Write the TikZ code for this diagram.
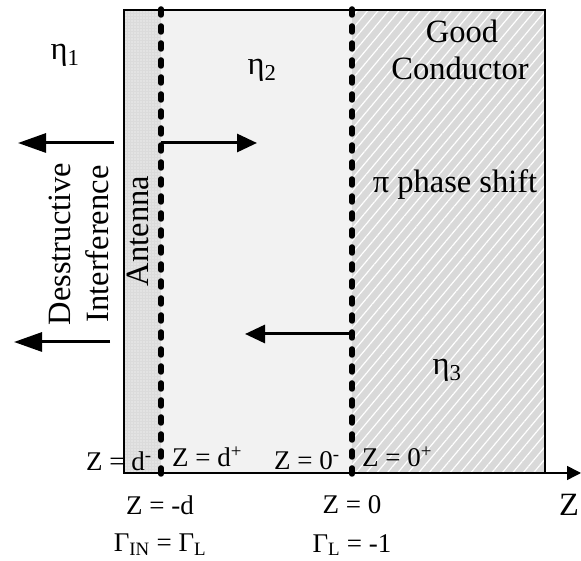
\documentclass[tikz,border=0pt]{standalone}
\usepackage{fontspec}
\setmainfont{Liberation Serif}
\usetikzlibrary{arrows.meta,patterns.meta}
\begin{document}
\begin{tikzpicture}[x=1pt, y=1pt,
  bigwave/.style={-{Triangle[length=28pt,width=19pt]}, line width=3pt},
  wave/.style={-{Triangle[length=20pt,width=18pt]}, line width=3pt},
  iface/.style={line width=5.5pt, line cap=round, dash pattern=on 6pt off 11pt},
  label/.style={font=\fontsize{32.5}{38}\selectfont, inner sep=0pt},
  zlabel/.style={font=\fontsize{27}{30}\selectfont, inner sep=0pt}]
\useasboundingbox (0,0) rectangle (581,561);
% layers
\fill[black!5] (161,88) rectangle (352,551);
\fill[black!14] (124,88) rectangle (161,551);
\fill[pattern={Dots[distance=3pt,radius=0.7pt]}, pattern color=white] (124,88) rectangle (161,551);
\fill[black!15] (352,88) rectangle (545,551);
\fill[pattern={Lines[angle=50,distance=8pt,line width=1.2pt]}, pattern color=white] (352,88) rectangle (545,551);
\draw[line width=1.5pt] (124,88) rectangle (545,551);
% z axis
\coordinate (zorig) at (124,88);
\coordinate (zend) at (581,88);
\draw[-{Triangle[length=14pt,width=14pt]}, line width=1.5pt] (zorig) -- (zend);
% interfaces
\coordinate (dtop) at (161,552);
\coordinate (dbot) at (161,77);
\coordinate (otop) at (352,552);
\coordinate (obot) at (352,77);
\draw[iface] (dtop) -- (dbot);
\draw[iface] (otop) -- (obot);
% waves
\coordinate (w1s) at (114,418);
\coordinate (w1e) at (18,418);
\coordinate (w2s) at (161,418);
\coordinate (w2e) at (257,418);
\coordinate (w3s) at (350,227);
\coordinate (w3e) at (245,227);
\coordinate (w4s) at (110,219);
\coordinate (w4e) at (14,219);
\draw[bigwave] (w1s) -- (w1e);
\draw[wave] (w2s) -- (w2e);
\draw[wave] (w3s) -- (w3e);
\draw[bigwave] (w4s) -- (w4e);
% labels
\node[label] (eta1) at (65,506) {η\textsubscript{1}};
\node[label] (eta2) at (262,491) {η\textsubscript{2}};
\node[label] (eta3) at (447,191) {η\textsubscript{3}};
\node[label] (good) at (462,530) {Good};
\node[label] (cond) at (460,493) {Conductor};
\node[label] (shift) at (455,376) {π phase shift};
\node[label, rotate=90] (ant) at (138,330) {Antenna};
\node[label, rotate=90, align=center] (interf) at (79,317) {Desstructive\\Interference};
\node[zlabel] (zdm) at (119,100) {Z = d\textsuperscript{-}};
\node[zlabel] (zdp) at (207,104) {Z = d\textsuperscript{+}};
\node[zlabel] (zom) at (307,100) {Z = 0\textsuperscript{-}};
\node[zlabel] (zop) at (397,104) {Z = 0\textsuperscript{+}};
\node[zlabel] (zd) at (160,56) {Z = -d};
\node[zlabel] (gin) at (160,16) {Γ\textsubscript{IN} = Γ\textsubscript{L}};
\node[zlabel] (zo) at (352,56) {Z = 0};
\node[zlabel] (gl) at (352,16) {Γ\textsubscript{L} = -1};
\node[label] (zax) at (569,56) {Z};
\end{tikzpicture}
\end{document}
